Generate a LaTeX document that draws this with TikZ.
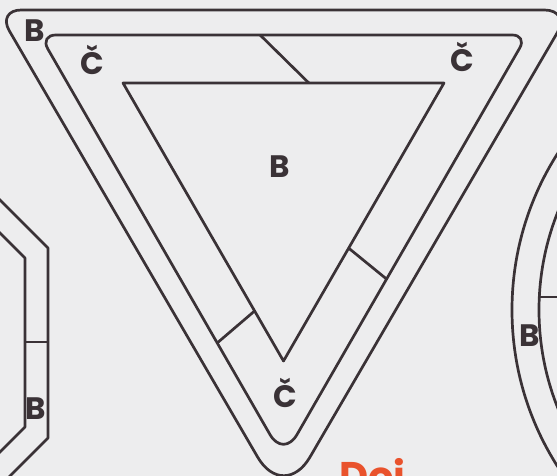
\documentclass[tikz,border=0pt]{standalone}
\usepackage{fontspec}
\newfontfamily\signfont{Poppins}
\usepackage{xcolor}
\usetikzlibrary{calc}
\definecolor{paper}{RGB}{237,237,238}
\definecolor{ink}{RGB}{58,50,54}
\definecolor{headred}{RGB}{233,82,44}

\begin{document}
\begin{tikzpicture}[
    x=1pt, y=-1pt,
    rim/.style={draw=ink, line width=2.7pt, line join=round},
    letter/.style={text=ink, font=\signfont\bfseries\fontsize{31}{31}\selectfont, anchor=base, inner sep=0pt}
]
    \useasboundingbox (0,0) rectangle (557,476);
    \fill [paper] (0,0) rectangle (557,476);
    \clip (0,0) rectangle (557,476);

    \coordinate (o1) at (-2.8,10);
    \coordinate (o2) at (570.5,10);
    \coordinate (o3) at (283.8,502);
    \coordinate (m1) at (39.8,35);
    \coordinate (m2) at (527.2,35);
    \coordinate (m3) at (283.5,458);
    \coordinate (i1) at (123,83);
    \coordinate (i2) at (444,83);
    \coordinate (i3) at (283.5,361);

    \draw [rim] ($(o1)!0.5!(o2)$) [rounded corners=26pt] -- (o2) -- ($(o2)!0.5!(o3)$)
        [rounded corners=52pt] -- (o3) -- ($(o3)!0.5!(o1)$)
        [rounded corners=24pt] -- (o1) -- cycle;
    \draw [rim] ($(m1)!0.5!(m2)$) [rounded corners=15pt] -- (m2) -- ($(m2)!0.5!(m3)$)
        [rounded corners=27pt] -- (m3) -- ($(m3)!0.5!(m1)$)
        [rounded corners=16pt] -- (m1) -- cycle;
    \draw [rim] (i1) -- (i2) -- (i3) -- cycle;

    \draw [rim] ($(m1)!0.452!(m2)$) -- ($(i1)!0.579!(i2)$);
    \draw [rim] ($(i2)!0.594!(i3)$) -- ($(m2)!0.577!(m3)$);
    \draw [rim] ($(i1)!0.82!(i3)$) -- ($(m1)!0.728!(m3)$);

    \draw [rim] (-12,188) -- (48,248) -- (48,438) -- (8,478);
    \draw [rim] (-12,221) -- (25,258) -- (25,427) -- (-8,460);
    \draw [rim] (25,342) -- (48,342);

    \draw [rim] (803,310) circle [radius=291pt];
    \draw [rim] (803,310) circle [radius=264pt];
    \draw [rim] (539.3,297) -- (565,297);

    \node [letter] (bouter) at (35,42) {B};
    \node [letter] (cleft) at (92,75) {Č};
    \node [letter] (cright) at (462,72) {Č};
    \node [letter] (bcentre) at (280,178) {B};
    \node [letter] (cbottom) at (285,407) {Č};
    \node [letter] (boct) at (36,419) {B};
    \node [letter] (bcirc) at (530,346) {B};

    \node [text=headred, font=\signfont\bfseries\fontsize{40}{40}\selectfont, anchor=base west, inner sep=0pt] (head) at (339,490) {Doj};
\end{tikzpicture}
\end{document}
